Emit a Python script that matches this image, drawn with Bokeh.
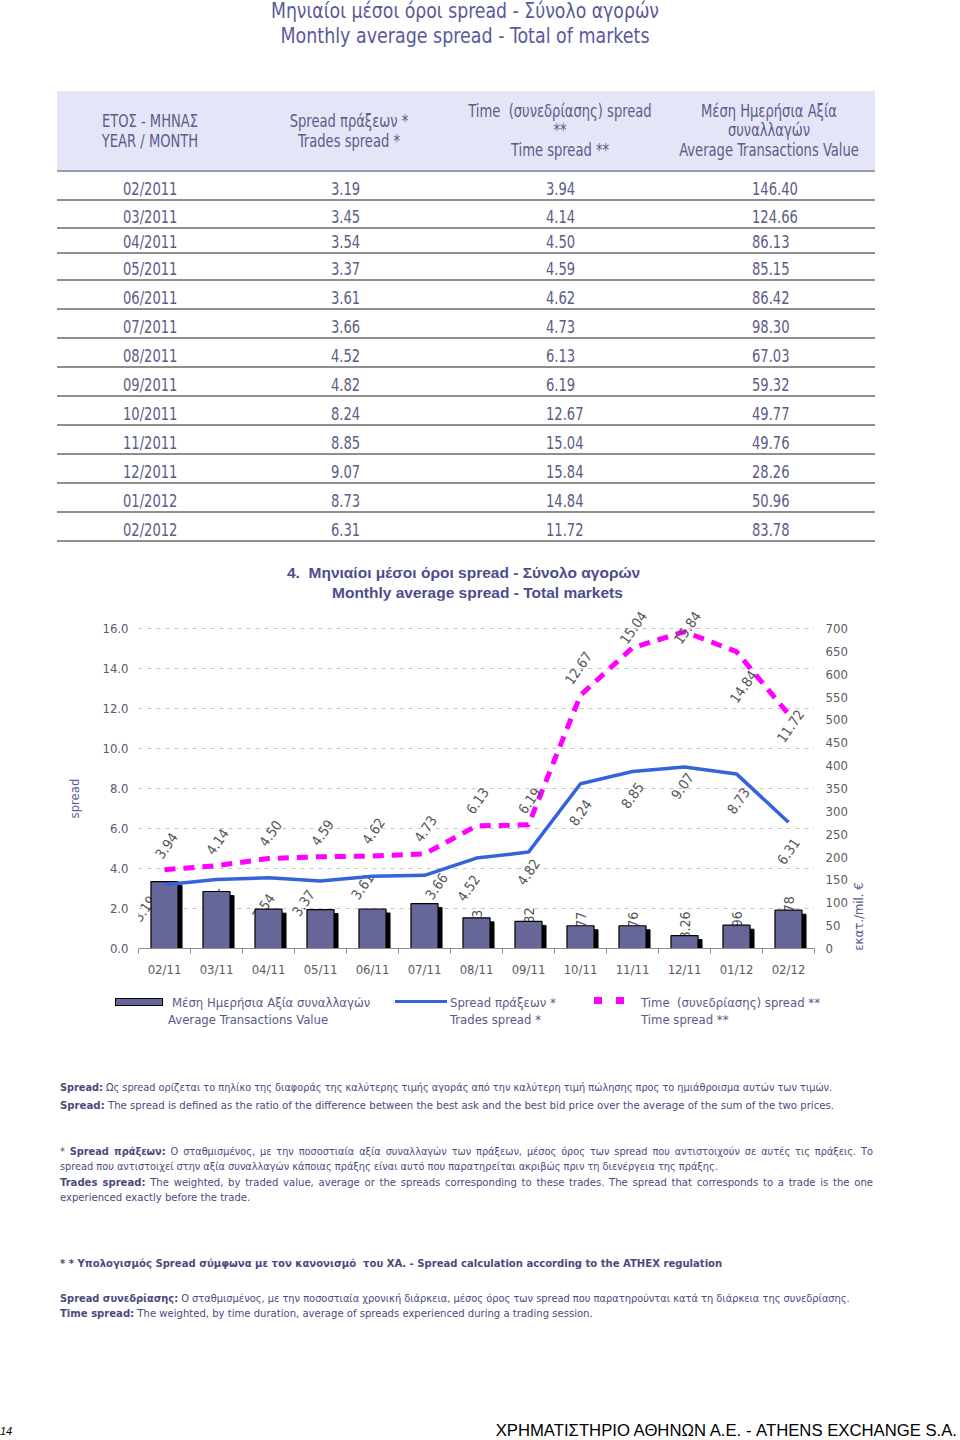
import math
import numpy as np
from bokeh.plotting import figure
from bokeh.models import (Range1d, LinearAxis, FixedTicker, NumeralTickFormatter,
                          ColumnDataSource, Div)
from bokeh.layouts import column, row
from bokeh.embed import file_html
from bokeh.resources import INLINE
from bokeh.core.properties import value

# ---------------- data ----------------
months_table = ["02/2011", "03/2011", "04/2011", "05/2011", "06/2011", "07/2011", "08/2011",
                "09/2011", "10/2011", "11/2011", "12/2011", "01/2012", "02/2012"]
months_axis = ["02/11", "03/11", "04/11", "05/11", "06/11", "07/11", "08/11",
               "09/11", "10/11", "11/11", "12/11", "01/12", "02/12"]
trades_spread = [3.19, 3.45, 3.54, 3.37, 3.61, 3.66, 4.52, 4.82, 8.24, 8.85, 9.07, 8.73, 6.31]
time_spread = [3.94, 4.14, 4.50, 4.59, 4.62, 4.73, 6.13, 6.19, 12.67, 15.04, 15.84, 14.84, 11.72]
avg_value = [146.40, 124.66, 86.13, 85.15, 86.42, 98.30, 67.03, 59.32, 49.77, 49.76, 28.26, 50.96, 83.78]
spread_ticks = [0.0, 2.0, 4.0, 6.0, 8.0, 10.0, 12.0, 14.0, 16.0]
value_ticks = [0, 50, 100, 150, 200, 250, 300, 350, 400, 450, 500, 550, 600, 650, 700]

# ---------------- styles ----------------
COND = "'DejaVu Sans Condensed',sans-serif"
SANS = "'Liberation Sans',Arial,sans-serif"
CH_FONT = "DejaVu Sans Condensed"
BAR = "#666699"
BLUE = "#3463dc"
MAG = "#ff00ff"
GRID = "#c4c4c4"
AXIS_GREY = "#8c8c8c"
TICK_TXT = "#5a5a66"
LABEL_TXT = "#555555"
TITLE_C = "#5a5a9c"
TABLE_C = "#5c5c88"
CHART_TITLE_C = "#4d4d8c"
NOTE_C = "#4a4a80"
LEG_C = "#5a5a8a"

# label placement (pixels) for the data labels
trades_lab_dx = [-20, 0, -5, -17, -10, 12, -8, 0, 0, 0, -2, 2, 0]
trades_lab_dy = [24, 22, 29, 22, 10, 11, 30, 20, 29, 24, 19, 27, 29]
time_lab_dx = [2, 1, 2, 2, 1, 1, 1, 1, -2, 1, 3, 7, 2]
time_lab_dy = [-24, -24, -25, -24, -25, -25, -25, -24, -27, -20, -4, 35, 12]
value_lab_dy = [4, 4, 4, 4, 4, 4, -8, -14, -14, -14, -24, -14, -14]

# ---------------- helpers for HTML text ----------------
def t(x, yc, s, size, color, family=COND, bold=False, italic=False, lh=None,
      center=False, width=600, sx=1.0):
    lh = lh or size + 4
    top = yc - lh / 2
    left = x - width / 2 if center else x
    st = (f"position:absolute;left:{left}px;top:{top}px;font-family:{family};"
          f"font-size:{size}px;line-height:{lh}px;color:{color};white-space:pre;")
    if center:
        st += f"width:{width}px;text-align:center;"
    if sx != 1.0:
        st += f"transform:scaleX({sx});transform-origin:{'center' if center else 'left'};"
    if bold:
        st += "font-weight:bold;"
    if italic:
        st += "font-style:italic;"
    return f'<div style="{st}">{s}</div>'


def vt(cx, cy, s, size, color, family=COND):
    """vertical (rotated -90deg) text centred on (cx, cy)"""
    w, h = 160, size + 4
    st = (f"position:absolute;left:{cx - w / 2}px;top:{cy - h / 2}px;width:{w}px;height:{h}px;"
          f"line-height:{h}px;text-align:center;font-family:{family};font-size:{size}px;color:{color};"
          f"white-space:pre;transform:rotate(-90deg);transform-origin:center;")
    return f'<div style="{st}">{s}</div>'


def box(x, y, w, h, css):
    return f'<div style="position:absolute;left:{x}px;top:{y}px;width:{w}px;height:{h}px;{css}"></div>'


def html_div(parts, w, h):
    return Div(text=f'<div style="position:relative;width:{w}px;height:{h}px;">' + "".join(parts) + "</div>",
               width=w, height=h, margin=0)


PAGE_W = 960
# ---------------- top part: title + table ----------------
top = []
top.append(t(465, 11, "Μηνιαίοι μέσοι όροι spread - Σύνολο αγορών", 21, TITLE_C, center=True, sx=0.915))
top.append(t(465, 36, "Monthly average spread - Total of markets", 21, TITLE_C, center=True, sx=0.925))
top.append(box(57, 91, 818, 79, "background:#e5e5f8;"))
top.append(box(57, 170, 818, 2, "background:#9c9ca8;"))
hdr = [
    (150, [(121, "ΕΤΟΣ - ΜΗΝΑΣ"), (141, "YEAR / MONTH")]),
    (349, [(121, "Spread πράξεων *"), (141, "Trades spread *")]),
    (560, [(111, "Time  (συνεδρίασης) spread"), (130, "**"), (150, "Time spread **")]),
    (769, [(111, "Μέση Ημερήσια Αξία"), (130, "συναλλαγών"), (150, "Average Transactions Value")]),
]
for cx, lines in hdr:
    for yc, s in lines:
        top.append(t(cx, yc, s, 17, TABLE_C, center=True, width=260, sx=0.857))
row_bottoms = [200, 228, 253, 280, 309, 338, 367, 396, 425, 454, 483, 512, 541]
col_left = [123, 331, 546, 752]
for i, yb in enumerate(row_bottoms):
    yc = yb - 11
    cells = [months_table[i], f"{trades_spread[i]:.2f}", f"{time_spread[i]:.2f}", f"{avg_value[i]:.2f}"]
    for xl, s in zip(col_left, cells):
        top.append(t(xl, yc, s, 17, TABLE_C, sx=0.857))
    top.append(box(57, yb - 1, 818, 2, "background:#8e8e8e;"))
# chart title
top.append(t(287, 573, "4.&nbsp; Μηνιαίοι μέσοι όροι spread - Σύνολο αγορών", 15.5, CHART_TITLE_C,
             family=SANS, bold=True))
top.append(t(332, 593, "Monthly average spread - Total markets", 15.5, CHART_TITLE_C,
             family=SANS, bold=True))
TOP_H = 600
top_div = html_div(top, PAGE_W, TOP_H)

# ---------------- chart ----------------
n = len(months_axis)
CH_Y, CH_H = TOP_H, 385            # chart strip on the page
FIG_L, FIG_R = 95, 850              # figure extent on the page
FRAME_L, FRAME_R = 138, 814         # plot frame extent on the page
FRAME_W, FRAME_H = FRAME_R - FRAME_L, 340
SPREAD_TOP = 17.0  # head room above the 16.0 grid line for the labels
VALUE_TOP = value_ticks[-1] * SPREAD_TOP / spread_ticks[-1]
xpos = np.arange(n) + 0.5

p = figure(width=FIG_R - FIG_L, height=CH_H, x_range=Range1d(0, n), y_range=Range1d(0, SPREAD_TOP),
           output_backend="svg", toolbar_location=None,
           min_border_left=FRAME_L - FIG_L, min_border_right=FIG_R - FRAME_R,
           min_border_top=8, min_border_bottom=CH_H - 8 - FRAME_H)
p.extra_y_ranges = {"val": Range1d(0, VALUE_TOP)}
p.outline_line_color = None
p.background_fill_color = "white"
p.border_fill_color = "white"

p.xgrid.visible = False
p.ygrid.ticker = FixedTicker(ticks=spread_ticks[1:])
p.ygrid.grid_line_color = GRID
p.ygrid.grid_line_dash = "4 5"

yax = p.yaxis[0]
yax.ticker = FixedTicker(ticks=spread_ticks)
yax.formatter = NumeralTickFormatter(format="0.0")
yax.axis_line_color = None
yax.major_tick_line_color = None
yax.minor_tick_line_color = None
yax.major_tick_out = 0
yax.minor_tick_out = 0
yax.major_label_standoff = 10
yax.major_label_text_font = CH_FONT
yax.major_label_text_font_size = "13px"
yax.major_label_text_color = TICK_TXT

rax = LinearAxis(y_range_name="val", ticker=FixedTicker(ticks=value_ticks),
                 formatter=NumeralTickFormatter(format="0"))
rax.axis_line_color = None
rax.major_tick_line_color = None
rax.minor_tick_line_color = None
rax.major_tick_out = 0
rax.minor_tick_out = 0
rax.major_label_standoff = 11
rax.major_label_text_font = CH_FONT
rax.major_label_text_font_size = "13px"
rax.major_label_text_color = TICK_TXT
p.add_layout(rax, "right")

xax = p.xaxis[0]
xax.ticker = FixedTicker(ticks=list(xpos), minor_ticks=list(range(n + 1)))
xax.major_label_overrides = {float(x): m for x, m in zip(xpos, months_axis)}
xax.axis_line_color = AXIS_GREY
xax.major_tick_line_color = None
xax.minor_tick_line_color = AXIS_GREY
xax.minor_tick_in = 0
xax.minor_tick_out = 5
xax.major_tick_out = 0
xax.major_label_standoff = 8
xax.major_label_text_font = CH_FONT
xax.major_label_text_font_size = "13px"
xax.major_label_text_color = TICK_TXT

px_x = n / FRAME_W
px_v = VALUE_TOP / FRAME_H
src = ColumnDataSource(dict(
    x=xpos, trades=trades_spread, time=time_spread, val=avg_value,
    trades_txt=[f"{v:.2f}" for v in trades_spread],
    time_txt=[f"{v:.2f}" for v in time_spread],
    val_txt=[f"{v:.2f}" for v in avg_value],
    shadow_x=xpos + 4 * px_x, shadow_top=np.array(avg_value) - 4 * px_v,
    tdx=trades_lab_dx, tdy=trades_lab_dy, mdx=time_lab_dx, mdy=time_lab_dy, vdy=value_lab_dy,
))

# value labels (mostly hidden behind the bars)
p.text(x="x", y="val", text="val_txt", source=src, y_range_name="val", angle=math.pi / 2,
       y_offset="vdy", text_align="right", text_baseline="middle",
       text_font=value(CH_FONT), text_font_size="14px", text_color=LABEL_TXT)
# trades spread labels
p.text(x="x", y="trades", text="trades_txt", source=src, angle=math.radians(55),
       x_offset="tdx", y_offset="tdy", text_align="center", text_baseline="middle",
       text_font=value(CH_FONT), text_font_size="14px", text_color=LABEL_TXT)
# bars with shadow
p.vbar(x="shadow_x", top="shadow_top", bottom=0, width=0.52, source=src, y_range_name="val",
       fill_color="black", line_color="black")
p.vbar(x="x", top="val", bottom=0, width=0.52, source=src, y_range_name="val",
       fill_color=BAR, line_color="black", line_width=1.2)
# lines
p.line(x="x", y="trades", source=src, line_color=BLUE, line_width=3.5)
p.line(x="x", y="time", source=src, line_color=MAG, line_width=5, line_dash="11 8")
# time spread labels
p.text(x="x", y="time", text="time_txt", source=src, angle=math.radians(55),
       x_offset="mdx", y_offset="mdy", text_align="center", text_baseline="middle",
       text_font=value(CH_FONT), text_font_size="14px", text_color=LABEL_TXT)

# axis titles in side strips
left_div = html_div([vt(74, 798 - CH_Y, "spread", 13, LEG_C)], FIG_L, CH_H)
right_div = html_div([vt(858 - FIG_R, 916 - CH_Y, "εκατ./mil. €", 13, LEG_C)], PAGE_W - FIG_R, CH_H)
chart_row = row(left_div, p, right_div, spacing=0)

# ---------------- bottom part: legend + notes ----------------
BY = CH_Y + CH_H
bot = []
bot.append(box(115, 998 - BY, 48, 8, f"background:{BAR};border:1.5px solid #000;box-sizing:border-box;"))
bot.append(t(172, 1002 - BY, "Μέση Ημερήσια Αξία συναλλαγών", 13, LEG_C))
bot.append(t(168, 1019 - BY, "Average Transactions Value", 13, LEG_C))
bot.append(box(395, 1000 - BY, 52, 3, f"background:{BLUE};"))
bot.append(t(450, 1002 - BY, "Spread πράξεων *", 13, LEG_C))
bot.append(t(450, 1019 - BY, "Trades spread *", 13, LEG_C))
bot.append(box(594, 997 - BY, 8, 7, f"background:{MAG};"))
bot.append(box(616, 997 - BY, 8, 7, f"background:{MAG};"))
bot.append(t(641, 1002 - BY, "Time  (συνεδρίασης) spread **", 13, LEG_C))
bot.append(t(641, 1019 - BY, "Time spread **", 13, LEG_C))

NS = 10.85
def note(yc, html, size=NS):
    return t(60, yc - BY, html, size, NOTE_C, lh=15)

def jnote(yc, html, size=NS):
    top_ = yc - BY - 7.5
    st = (f"position:absolute;left:60px;top:{top_}px;width:813px;font-family:{COND};"
          f"font-size:{size}px;line-height:15px;height:15px;color:{NOTE_C};text-align:justify;"
          f"text-align-last:justify;")
    return f'<div style="{st}">{html}</div>'

bot.append(note(1087, "<b>Spread:</b> Ως spread ορίζεται το πηλίκο της διαφοράς της καλύτερης τιμής αγοράς από την καλύτερη τιμή πώλησης προς το ημιάθροισμα αυτών των τιμών."))
bot.append(note(1105, "<b>Spread:</b> The spread is defined as the ratio of the difference between the best ask and the best bid price over the average of the sum of the two prices.", 11.3))
bot.append(jnote(1151, "* <b>Spread πράξεων:</b> Ο σταθμισμένος, με την ποσοστιαία αξία συναλλαγών των πράξεων, μέσος όρος των spread που αντιστοιχούν σε αυτές τις πράξεις. Το"))
bot.append(note(1166, "spread που αντιστοιχεί στην αξία συναλλαγών κάποιας πράξης είναι αυτό που παρατηρείται ακριβώς πριν τη διενέργεια της πράξης."))
bot.append(jnote(1182, "<b>Trades spread:</b> The weighted, by traded value, average or the spreads corresponding to these trades. The spread that corresponds to a trade is the one", 11.2))
bot.append(note(1197, "experienced exactly before the trade.", 11.2))
bot.append(note(1263, "<b>* * Υπολογισμός Spread σύμφωνα με τον κανονισμό  του ΧΑ. - Spread calculation according to the ATHEX regulation</b>", 11.2))
bot.append(note(1298, "<b>Spread συνεδρίασης:</b> Ο σταθμισμένος, με την ποσοστιαία χρονική διάρκεια, μέσος όρος των spread που παρατηρούνται κατά τη διάρκεια της συνεδρίασης.", 10.95))
bot.append(note(1313, "<b>Time spread:</b> The weighted, by time duration, average of spreads experienced during a trading session.", 11.2))
bot.append(t(0, 1431 - BY, "14", 11, "#000", family=SANS, italic=True, lh=12))
bot.append(f'<div style="position:absolute;right:{PAGE_W - 957}px;top:{1423 - BY}px;font-family:{SANS};'
           f'font-size:16.7px;line-height:16px;color:#000;white-space:pre;">ΧΡΗΜΑΤΙΣΤΗΡΙΟ ΑΘΗΝΩΝ Α.Ε. - ATHENS EXCHANGE S.A.</div>')
BOT_H = 1440 - BY
bot_div = Div(text=f'<div style="position:relative;width:{PAGE_W}px;height:{BOT_H}px;overflow:hidden;">' + "".join(bot) + "</div>",
              width=PAGE_W, height=BOT_H, margin=0)

layout = column(top_div, chart_row, bot_div, spacing=0)
open("out.html", "w").write(file_html(layout, INLINE))
